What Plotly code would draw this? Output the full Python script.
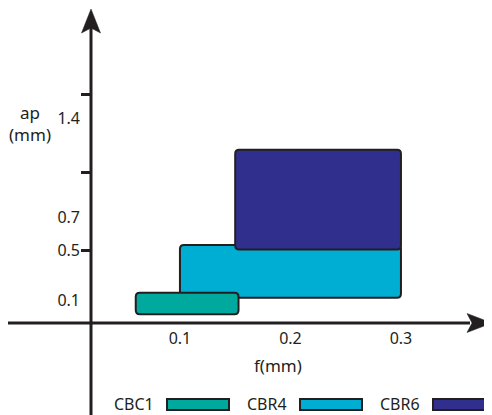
import plotly.graph_objects as go

# ---- data ----
series = ["CBC1", "CBR4", "CBR6"]
colors = ["#00a99d", "#00aed4", "#312f8e"]
f_min = [0.06, 0.10, 0.15]
f_max = [0.153, 0.30, 0.30]
ap_min = [0.06, 0.175, 0.51]   # positions on the schematic ap axis
ap_max = [0.21, 0.54, 1.20]
draw_order = [1, 0, 2]

x_ticks = [0.1, 0.2, 0.3]
x_tick_text = ["0.1", "0.2", "0.3"]
y_label_pos = [0.155, 0.50, 0.73, 1.42]
y_label_text = ["0.1", "0.5", "0.7", "1.4"]
y_mark_pos = [0.50, 1.04, 1.58]

# page has an 8px body margin; figure is drawn inside it
OFF = 8
W, H = 492 - OFF, 415 - OFF
AX_X, AX_Y = 91, 323            # axis positions in page pixels
L, R, T, B = AX_X - OFF, 0, 0, 415 - AX_Y
PW, PH = W - L - R, H - T - B
x_range = [0.0195, 0.3824]
y_range = [0.0, 323 / 148]
ink = "#231f20"
FONT = "Noto Sans"

sx = PW / (x_range[1] - x_range[0])
sy = PH / (y_range[1] - y_range[0])


def rounded(x0, y0, x1, y1, rpx=4):
    rx, ry = rpx / sx, rpx / sy
    return (f"M{x0+rx},{y0} L{x1-rx},{y0} Q{x1},{y0} {x1},{y0+ry} "
            f"L{x1},{y1-ry} Q{x1},{y1} {x1-rx},{y1} L{x0+rx},{y1} "
            f"Q{x0},{y1} {x0},{y1-ry} L{x0},{y0+ry} Q{x0},{y0} {x0+rx},{y0} Z")


def px(xp):  # page pixel x -> paper
    return (xp - AX_X) / PW


def py(yp):  # page pixel y -> paper
    return (AX_Y - yp) / PH


fig = go.Figure()
fig.add_trace(go.Scatter(x=[None], y=[None], showlegend=False, hoverinfo="skip"))
fig.add_trace(go.Scatter(x=[None], y=[None], yaxis="y2", showlegend=False, hoverinfo="skip"))

shapes = []
for i in draw_order:
    shapes.append(dict(type="path", xref="x", yref="y",
                       path=rounded(f_min[i], ap_min[i], f_max[i], ap_max[i]),
                       fillcolor=colors[i], line=dict(color=ink, width=2), layer="above"))

# axis lines (extended beyond plot area) and arrow heads
shapes.append(dict(type="line", xref="paper", yref="paper", x0=px(91), x1=px(91),
                   y0=py(416), y1=py(26), line=dict(color=ink, width=3)))
shapes.append(dict(type="line", xref="paper", yref="paper", x0=px(5), x1=px(470),
                   y0=py(323), y1=py(323), line=dict(color=ink, width=3)))
shapes.append(dict(type="path", xref="paper", yref="paper",
                   path=f"M{px(91)},{py(9)} L{px(81.5)},{py(33)} L{px(91)},{py(28)} L{px(100.5)},{py(33)} Z",
                   fillcolor=ink, line=dict(color=ink, width=0.5)))
shapes.append(dict(type="path", xref="paper", yref="paper",
                   path=f"M{px(492)},{py(323)} L{px(467)},{py(313.5)} L{px(472)},{py(323)} L{px(467)},{py(332.5)} Z",
                   fillcolor=ink, line=dict(color=ink, width=0.5)))

annotations = []
# legend: label then swatch
for i, name in enumerate(series):
    step = 133 * i
    annotations.append(dict(text=name, xref="paper", yref="paper", x=px(156 + step), y=py(404),
                            xanchor="right", yanchor="middle", showarrow=False,
                            font=dict(family=FONT, size=16, color=ink)))
    shapes.append(dict(type="rect", xref="paper", yref="paper",
                       x0=px(167 + step), x1=px(229 + step), y0=py(410), y1=py(399),
                       fillcolor=colors[i], line=dict(color=ink, width=2)))

# axis titles
annotations.append(dict(text="f(mm)", xref="x", yref="paper", x=0.1885, y=py(365),
                        xanchor="center", yanchor="middle", showarrow=False,
                        font=dict(family=FONT, size=17, color=ink)))
annotations.append(dict(text="ap<br>(mm)", xref="paper", yref="paper", x=px(30.5), y=py(123),
                        xanchor="center", yanchor="middle", showarrow=False, align="center",
                        font=dict(family=FONT, size=17, color=ink)))

fig.update_layout(
    width=W, height=H,
    margin=dict(l=L, r=R, t=T, b=B, pad=0),
    paper_bgcolor="white", plot_bgcolor="white",
    showlegend=False,
    shapes=shapes, annotations=annotations,
    xaxis=dict(range=x_range, tickvals=x_ticks, ticktext=x_tick_text, ticks="",
               showgrid=False, zeroline=False, showline=False,
               tickfont=dict(family=FONT, size=16, color=ink), ticklabelstandoff=4),
    yaxis=dict(range=y_range, tickvals=y_label_pos, ticktext=y_label_text, ticks="",
               showgrid=False, zeroline=False, showline=False,
               tickfont=dict(family=FONT, size=16, color=ink), ticklabelstandoff=10),
    yaxis2=dict(range=y_range, overlaying="y", side="left", tickvals=y_mark_pos,
                showticklabels=False, ticks="outside", ticklen=9, tickwidth=2.5,
                tickcolor=ink, showgrid=False, zeroline=False, showline=False),
)

fig.write_html("out.html")
